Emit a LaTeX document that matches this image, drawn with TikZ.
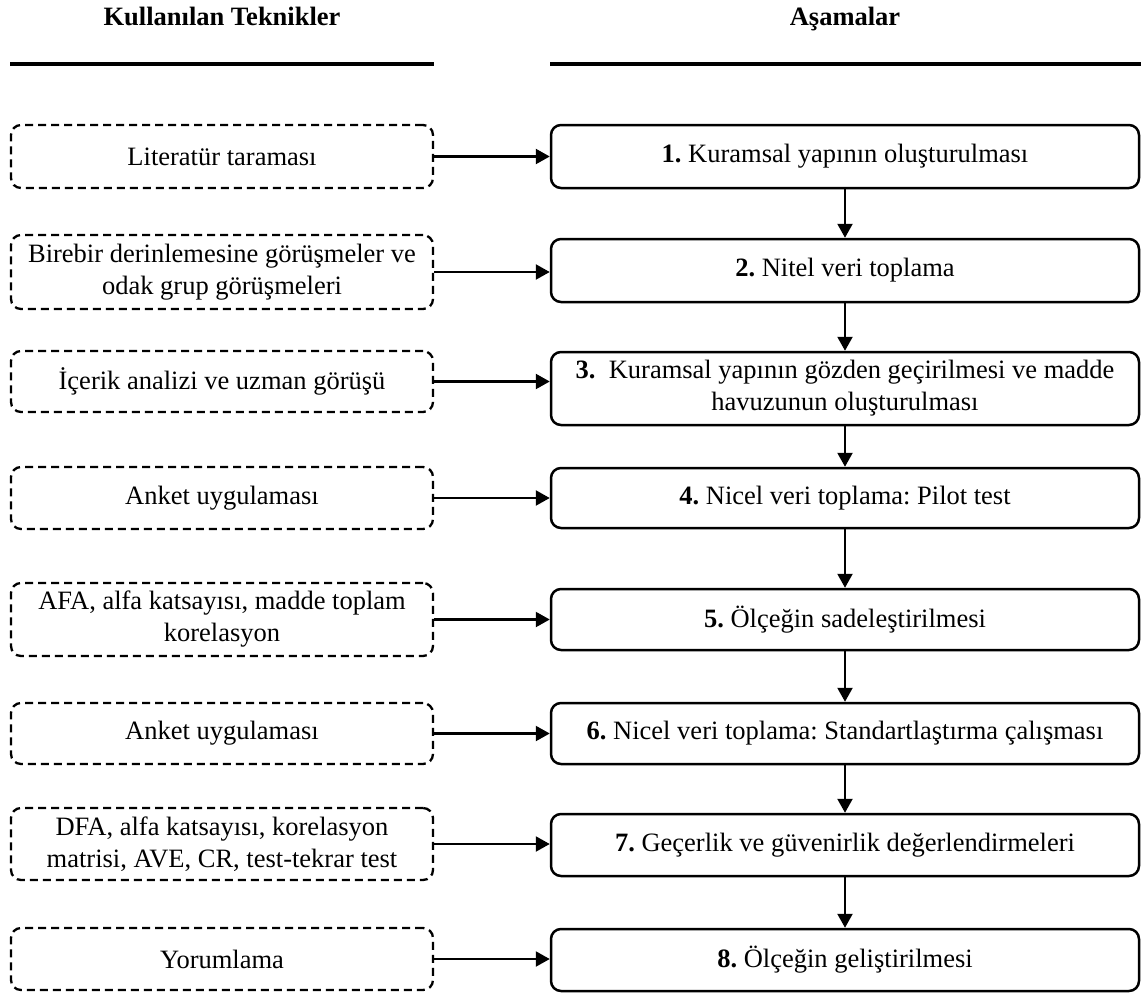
\documentclass[tikz,border=0pt]{standalone}
\usepackage{fontspec}
\setmainfont{Liberation Serif}
\usetikzlibrary{arrows.meta}
\frenchspacing

\tikzset{
  txt/.style={font=\fontsize{26.5}{32}\selectfont},
  head/.style={font=\fontsize{26.5}{32}\selectfont\bfseries, anchor=base, inner sep=0pt},
  rulebar/.style={fill=black, draw=none, minimum height=4pt, inner sep=0pt},
  technique/.style={txt, draw, dash pattern=on 8pt off 5pt, line width=2.3pt,
    rounded corners=10pt, minimum width=422pt, align=center, inner sep=0pt},
  stage/.style={txt, draw, line width=2.5pt, rounded corners=10pt,
    minimum width=588pt, align=center, inner sep=0pt},
  flow/.style={line width=2.3pt, -{Triangle[length=14pt,width=15pt]}}
}

\begin{document}
\begin{tikzpicture}[x=1pt, y=-1pt]
\useasboundingbox (0,0) rectangle (1145,999);

% column headings and rules
\node[head] (hL) at (222,25) {Kullanılan Teknikler};
\node[head] (hR) at (845,25) {Aşamalar};
\node[rulebar, minimum width=424pt] (ruleL) at (222,64) {};
\node[rulebar, minimum width=591pt] (ruleR) at (845,64) {};

% techniques (left column)
\node[technique, minimum height=63pt] (l1) at (222,156.5) {Literatür taraması};
\node[technique, minimum height=74pt] (l2) at (222,272) {Birebir derinlemesine görüşmeler ve\\odak grup görüşmeleri};
\node[technique, minimum height=61pt] (l3) at (222,381.5) {İçerik analizi ve uzman görüşü};
\node[technique, minimum height=62pt] (l4) at (222,498) {Anket uygulaması};
\node[technique, minimum height=73pt] (l5) at (222,619.5) {AFA, alfa katsayısı, madde toplam\\korelasyon};
\node[technique, minimum height=61pt] (l6) at (222,733.5) {Anket uygulaması};
\node[technique, minimum height=72pt] (l7) at (222,844) {DFA, alfa katsayısı, korelasyon\\matrisi, AVE, CR, test-tekrar test};
\node[technique, minimum height=62pt] (l8) at (222,959) {Yorumlama};

% stages (right column)
\node[stage, minimum height=63pt] (r1) at (845,156.5) {\textbf{1.} Kuramsal yapının oluşturulması};
\node[stage, minimum height=63pt] (r2) at (845,270.5) {\textbf{2.} Nitel veri toplama};
\node[stage, minimum height=73pt] (r3) at (845,388.5) {\textbf{3.}\ \ Kuramsal yapının gözden geçirilmesi ve madde\\havuzunun oluşturulması};
\node[stage, minimum height=60pt] (r4) at (845,498) {\textbf{4.} Nicel veri toplama: Pilot test};
\node[stage, minimum height=61pt] (r5) at (845,619.5) {\textbf{5.} Ölçeğin sadeleştirilmesi};
\node[stage, minimum height=61pt] (r6) at (845,733.5) {\textbf{6.} Nicel veri toplama: Standartlaştırma çalışması};
\node[stage, minimum height=62pt] (r7) at (845,845) {\textbf{7.} Geçerlik ve güvenirlik değerlendirmeleri};
\node[stage, minimum height=62pt] (r8) at (845,960) {\textbf{8.} Ölçeğin geliştirilmesi};

% technique -> stage
\foreach \i in {1,...,8}
  \draw[flow] (l\i.east) -- (l\i.east -| r\i.west);

% stage -> next stage
\foreach \i/\j in {1/2,2/3,3/4,4/5,5/6,6/7,7/8}
  \draw[flow] (r\i.south) -- (r\j.north);
\end{tikzpicture}
\end{document}
